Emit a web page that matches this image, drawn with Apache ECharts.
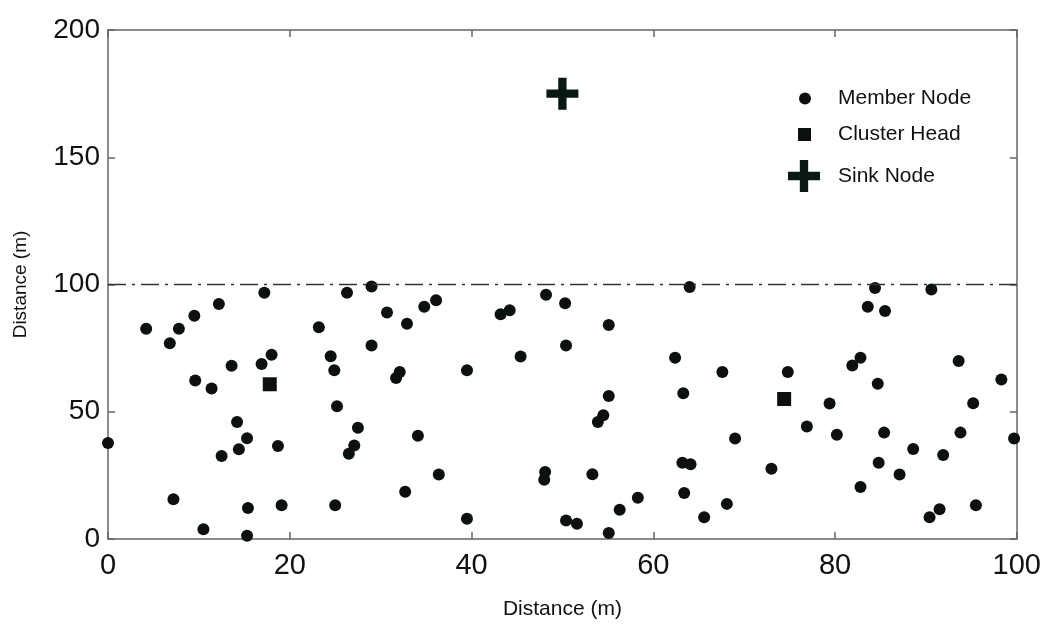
<!DOCTYPE html>
<html>
<head>
<meta charset="utf-8">
<script src="https://cdn.jsdelivr.net/npm/echarts@6/dist/echarts.min.js"></script>
<style>html,body{margin:0;padding:0;background:#fff}#c{width:1044px;height:625px}</style>
</head>
<body>
<div id="c"></div>
<script>
// ---- data ----
var xTicks = [0, 20, 40, 60, 80, 100];
var yTicks = [0, 50, 100, 150, 200];
var memberX = [17.2,12.2,9.5,4.2,7.8,6.8,23.2,18.0,16.9,13.6,24.5,24.9,9.6,11.4,25.2,14.2,15.3,14.4,12.5,18.7,0.0,7.2,15.4,19.1,25.0,10.5,15.3,
  26.3,29.0,30.7,34.8,36.1,32.9,43.2,44.2,48.2,50.3,29.0,45.4,50.4,32.1,31.7,39.5,27.5,27.1,26.5,34.1,36.4,32.7,39.5,48.1,48.0,50.4,
  64.0,55.1,62.4,67.6,74.8,55.1,63.3,54.5,53.9,69.0,63.2,64.1,73.0,53.3,63.4,58.3,56.3,68.1,65.6,51.6,55.1,
  84.4,90.6,83.6,85.5,82.8,81.9,93.6,98.3,84.7,79.4,95.2,76.9,80.2,85.4,93.8,99.7,88.6,91.9,84.8,87.1,82.8,95.5,91.5,90.4];
var memberY = [96.8,92.3,87.7,82.6,82.6,76.9,83.2,72.4,68.8,68.1,71.8,66.3,62.3,59.1,52.2,46.0,39.6,35.3,32.6,36.5,37.7,15.6,12.2,13.3,13.3,3.8,1.3,
  96.8,99.2,89.0,91.3,93.8,84.6,88.3,89.9,96.0,92.6,76.0,71.7,76.0,65.6,63.3,66.3,43.7,36.7,33.5,40.6,25.3,18.6,8.0,26.3,23.3,7.3,
  99.0,84.1,71.2,65.6,65.6,56.2,57.3,48.6,46.0,39.5,30.0,29.4,27.6,25.4,18.1,16.2,11.5,13.8,8.5,6.0,2.4,
  98.6,98.0,91.3,89.6,71.2,68.2,69.9,62.7,61.0,53.2,53.3,44.2,41.0,41.8,41.8,39.5,35.4,33.0,30.0,25.3,20.4,13.3,11.7,8.5];
var headX = [17.8, 74.4];
var headY = [60.8, 55.0];
var sinkX = [50];
var sinkY = [175];
var boundaryX = [0, 100];
var boundaryY = [100, 100];

function pairs(xs, ys){ return xs.map(function(v,i){ return [v, ys[i]]; }); }

var FONT = 'Liberation Sans';
var dotColor = '#0b120e';
var plusPath = 'path://M37,0H63V37H100V63H63V100H37V63H0V37H37Z';

var chart = echarts.init(document.getElementById('c'), null, {renderer:'canvas'});
var axisLineStyle = {color:'#666', width:1.5};
var option = {
  animation:false,
  backgroundColor:'#fff',
  textStyle:{fontFamily:FONT},
  grid:{left:108, right:25, top:30, bottom:75, containLabel:false},
  xAxis:[{
    type:'value', min:0, max:100, interval:20, position:'bottom',
    name:'Distance (m)', nameLocation:'middle', nameGap:60,
    nameTextStyle:{fontSize:21, color:'#111', fontFamily:FONT},
    axisLine:{show:true, onZero:false, lineStyle:axisLineStyle},
    axisTick:{show:true, inside:true, length:7, lineStyle:axisLineStyle},
    axisLabel:{fontSize:29, color:'#111', margin:12, fontFamily:FONT,
      formatter:function(v){ return xTicks.indexOf(v) >= 0 ? String(v) : ''; }},
    splitLine:{show:false}
  },{
    type:'value', min:0, max:100, interval:20, position:'top',
    axisLine:{show:true, onZero:false, lineStyle:axisLineStyle},
    axisTick:{show:true, inside:true, length:7, lineStyle:axisLineStyle},
    axisLabel:{show:false}, splitLine:{show:false}
  }],
  yAxis:[{
    type:'value', min:0, max:200, interval:50, position:'left',
    name:'Distance (m)', nameLocation:'middle', nameGap:78,
    nameTextStyle:{fontSize:19, color:'#111', fontFamily:FONT},
    axisLine:{show:true, onZero:false, lineStyle:axisLineStyle},
    axisTick:{show:true, inside:true, length:7, lineStyle:axisLineStyle},
    axisLabel:{fontSize:28, color:'#111', margin:8, fontFamily:FONT,
      formatter:function(v){ return yTicks.indexOf(v) >= 0 ? String(v) : ''; }},
    splitLine:{show:false}
  },{
    type:'value', min:0, max:200, interval:50, position:'right',
    axisLine:{show:true, onZero:false, lineStyle:axisLineStyle},
    axisTick:{show:true, inside:true, length:7, lineStyle:axisLineStyle},
    axisLabel:{show:false}, splitLine:{show:false}
  }],
  legend:[{
    data:['Member Node'], orient:'vertical', left:799, top:88, padding:0,
    itemWidth:12, itemHeight:12,
    textStyle:{fontSize:21, color:'#111', fontFamily:FONT, padding:[0,0,0,22]}
  },{
    data:['Cluster Head'], orient:'vertical', left:798, top:124, padding:0,
    itemWidth:13, itemHeight:13,
    textStyle:{fontSize:21, color:'#111', fontFamily:FONT, padding:[0,0,0,22]}
  },{
    data:['Sink Node'], orient:'vertical', left:788, top:160, padding:0,
    itemWidth:32, itemHeight:32,
    textStyle:{fontSize:21, color:'#111', fontFamily:FONT, padding:[0,0,0,13]}
  }],
  series:[{
    name:'Boundary', type:'line', data:pairs(boundaryX, boundaryY),
    symbol:'none', silent:true,
    lineStyle:{color:'#333', width:1.5, type:[18,6,3,6]}
  },{
    name:'Member Node', type:'scatter', data:pairs(memberX, memberY),
    symbol:'circle', symbolSize:12,
    itemStyle:{color:dotColor, opacity:1}
  },{
    name:'Cluster Head', type:'scatter', data:pairs(headX, headY),
    symbol:'rect', symbolSize:14,
    itemStyle:{color:dotColor, opacity:1}
  },{
    name:'Sink Node', type:'scatter', data:pairs(sinkX, sinkY),
    symbol:plusPath, symbolSize:32,
    itemStyle:{color:'#0a1814', opacity:1}
  }]
};
chart.setOption(option);
</script>
</body>
</html>
